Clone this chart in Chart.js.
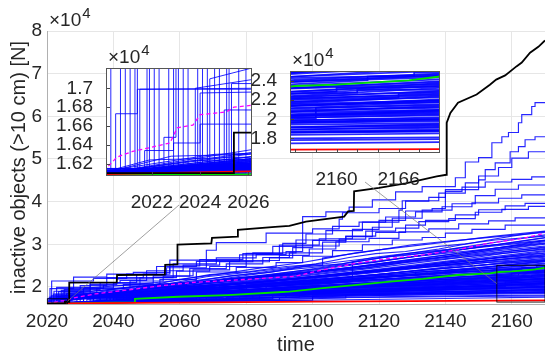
<!DOCTYPE html>
<html>
<head>
<meta charset="utf-8">
<script src="https://cdn.jsdelivr.net/npm/chart.js@4.4.0/dist/chart.umd.min.js"></script>
<style>
html,body{margin:0;padding:0;background:#fff;}
#wrap{position:relative;width:545px;height:361px;overflow:hidden;}
#wrap canvas{position:absolute;}
</style>
</head>
<body>
<div id="wrap">
  <canvas id="main" width="545" height="361" style="left:0;top:0"></canvas>
  <canvas id="insetL" width="230" height="180" style="left:50px;top:36px"></canvas>
  <canvas id="insetR" width="225" height="150" style="left:240px;top:40px"></canvas>
</div>
<script>
// ---- axes / ticks ----
const xTicks = [2020, 2040, 2060, 2080, 2100, 2120, 2140, 2160];
const yTicks = [20000, 30000, 40000, 50000, 60000, 70000, 80000];
const yTickLabels = ['2', '3', '4', '5', '6', '7', '8'];
const insetLXTicks = [2022, 2024, 2026];
const insetLYTicks = [16200, 16400, 16600, 16800, 17000];
const insetLYLabels = ['1.62', '1.64', '1.66', '1.68', '1.7'];
const insetRXTicks = [2156, 2158, 2160, 2162, 2164, 2166, 2168];
const insetRXLabels = ['', '', '2160', '', '', '2166', ''];
const insetRYTicks = [18000, 20000, 22000, 24000];
const insetRYLabels = ['1.8', '2', '2.2', '2.4'];

// ---- series, [year, thousands of objects, ...] ----
const worstRun = [2020,16.1, 2025.4,16.1, 2025.4,16.53, 2026.7,16.53, 2026.7,21.0, 2041,21.05, 2041.1,22.8, 2055.5,22.9, 2055.6,25.2, 2059.2,25.3, 2059.3,29.9, 2069.5,30.2, 2069.7,31.5, 2077.4,31.8, 2077.5,33.4, 2088.7,34.1, 2093,34.3, 2098,35.3, 2109.5,36.5, 2110.7,37.7, 2112.4,37.8, 2112.5,42.4, 2120,43.2, 2128,44.3, 2137.4,45.9, 2140.3,46.3, 2140.4,58.5, 2141.5,60.8, 2143.8,63.2, 2149.4,65.1, 2153.4,67.4, 2155.3,68.6, 2158,69.6, 2161.4,71.7, 2163,72.6, 2165.5,74.9, 2168,76.3, 2170,77.8];
const bestRun = [2020,16.09, 2026,16.12, 2045,16.25, 2070,16.4, 2100,16.55, 2130,16.68, 2155,16.8, 2170,16.85];
const medianLine = [2020,16.08, 2026,16.09, 2035,16.25, 2046.3,16.4, 2046.5,17.18, 2059.5,17.7, 2074.5,18.1, 2089.6,18.75, 2093,18.9, 2103,19.7, 2113.4,20.5, 2123.3,21.25, 2133.3,21.9, 2143.5,22.8, 2153.4,23.2, 2156,23.5, 2160,23.65, 2164,23.9, 2167,24.1, 2170,24.5];
const meanLine = [2020,16.12, 2020.55,16.27, 2021.2,16.33, 2021.9,16.37, 2022.75,16.42, 2023.05,16.58, 2023.7,16.61, 2024.0,16.72, 2025.1,16.75, 2025.4,16.8, 2026.15,16.82, 2027,17.25, 2030,17.7, 2034.5,18.36, 2044.4,19.3, 2054.6,20.3, 2064.6,21.1, 2074.5,21.5, 2084.8,22.0, 2094.7,22.5, 2103,24.0, 2113.4,25.6, 2123.3,26.7, 2133.3,27.5, 2143.5,28.7, 2153.4,30.3, 2163.4,31.4, 2170,32.6];

const runsHigh = [
  [2020,16.12, 2024.3,16.12, 2024.3,18.6, 2033,19.2, 2041,20.6, 2052,21.9, 2058,22.2, 2058,24.3, 2071,25.4, 2083,26.8, 2092,27.6, 2097,28.3, 2097,35.8, 2104,36.5, 2111,37.6, 2118,38.7, 2125,40.4, 2133,42.3, 2143,43.5, 2146,45.6, 2150,49.3, 2154,50.3, 2157,53.8, 2159,55.2, 2162,56.2, 2163,58.5, 2166,60.4, 2167,62.3, 2170,63.2],
  [2020,16.1, 2022.1,16.1, 2022.1,17.9, 2030,19.0, 2038,20.3, 2049,22.2, 2057,23.0, 2057,25.6, 2068,26.3, 2071,28.6, 2086,30.4, 2100,32.6, 2108,33.6, 2109,35.9, 2120,37.4, 2128,38.4, 2135,40.1, 2140,41.0, 2145,42.4, 2150,42.8, 2152,45.1, 2155,47.5, 2159.5,49.1, 2162,51.7, 2164,52.9, 2167,54.5, 2170,55.2],
  [2020,16.15, 2025.2,16.15, 2025.2,18.2, 2036,19.4, 2047,21.0, 2056,22.9, 2068,24.5, 2080,26.2, 2088,27.9, 2095,29.5, 2104,31.0, 2115,33.2, 2126,35.2, 2127,38.0, 2138,40.2, 2146,42.0, 2150,44.4, 2156,46.0, 2160,48.0, 2165,50.2, 2170,51.7],
  [2020,16.1, 2021.4,16.1, 2021.4,20.2, 2034,21.4, 2044,22.0, 2053,23.0, 2065,24.8, 2078,26.0, 2090,27.5, 2102,29.8, 2112,31.3, 2120,33.5, 2128,35.6, 2136,37.8, 2140,38.4, 2145,42.8, 2152,43.4, 2160,44.6, 2166,45.2, 2170,45.8],
  [2020,16.1, 2023.5,16.1, 2023.5,17.6, 2031,18.9, 2040,19.8, 2052,20.9, 2064,22.6, 2075,24.0, 2087,25.9, 2094,26.8, 2100,29.2, 2110,30.9, 2118,31.8, 2124,34.0, 2133,36.1, 2142,38.0, 2149,39.5, 2155,41.4, 2162,42.9, 2170,43.9],
  [2020,16.13, 2020.9,16.13, 2020.9,18.0, 2028,19.6, 2038,22.3, 2046,23.0, 2057,23.4, 2066,24.9, 2079,26.4, 2091,27.8, 2098,30.2, 2106,32.4, 2114,34.2, 2122,35.2, 2131,36.4, 2139,37.6, 2148,38.8, 2156,39.7, 2163,40.8, 2170,41.6],
  [2020,16.1, 2024.8,16.1, 2024.8,17.4, 2035,18.6, 2045,19.7, 2055,21.4, 2063,22.5, 2074,24.3, 2085,25.4, 2093,26.9, 2103,28.0, 2110,30.5, 2119,31.9, 2128,32.8, 2134,34.5, 2143,35.6, 2150,36.9, 2158,38.1, 2164,39.0, 2170,39.6],
  [2020,16.12, 2022.9,16.12, 2022.9,18.7, 2033,19.9, 2042,21.0, 2050,21.5, 2061,23.8, 2072,25.1, 2082,25.9, 2095,28.0, 2108,29.6, 2116,31.2, 2125,33.1, 2132,33.8, 2141,35.3, 2149,36.0, 2157,37.5, 2165,38.2, 2170,38.9],
  [2020,16.1, 2026.5,16.1, 2026.5,18.0, 2037,19.6, 2048,20.4, 2059,22.2, 2069,23.7, 2080,24.8, 2090,26.2, 2099,27.4, 2107,28.9, 2117,30.6, 2126,31.4, 2135,32.9, 2144,33.6, 2153,34.8, 2161,35.5, 2170,36.2],
  [2020,16.14, 2021.9,16.14, 2021.9,17.5, 2031,18.3, 2043,19.7, 2054,20.6, 2065,21.7, 2077,23.5, 2089,24.6, 2097,25.7, 2106,27.2, 2115,28.5, 2124,29.9, 2133,31.0, 2140,31.6, 2148,32.6, 2158,33.5, 2170,34.5]
];

const runsMid = [
  [2020,16.1, 2023.1,16.1, 2023.1,17.3, 2030,17.9, 2041,19.6, 2051,20.3, 2060,21.8, 2072,23.0, 2084,24.4, 2096,25.6, 2104,26.7, 2113,28.0, 2121,28.8, 2130,29.9, 2139,30.6, 2150,31.4, 2160,32.1, 2170,32.8],
  [2020,16.1, 2025.9,16.1, 2025.9,18.4, 2034,19.0, 2046,20.1, 2057,20.8, 2068,22.4, 2078,23.2, 2088,24.1, 2101,25.4, 2111,26.9, 2119,27.8, 2128,28.3, 2138,29.5, 2146,30.1, 2155,31.0, 2164,31.5, 2170,31.9],
  [2020,16.12, 2020.5,16.12, 2020.5,16.73, 2021.4,16.73, 2021.4,16.99, 2026.1,16.99, 2027,17.2, 2036,18.6, 2047,19.4, 2058,20.6, 2069,21.5, 2081,22.8, 2092,24.0, 2103,24.8, 2114,26.0, 2124,27.2, 2135,28.1, 2145,29.2, 2157,30.0, 2170,31.0],
  [2020,16.1, 2024.4,16.1, 2024.4,17.1, 2032,17.6, 2043,18.7, 2053,19.8, 2064,20.3, 2074,21.9, 2086,22.7, 2097,23.9, 2108,25.1, 2118,25.7, 2128,26.9, 2139,27.8, 2149,28.6, 2160,29.5, 2170,30.3],
  [2020,16.15, 2022.5,16.15, 2022.5,16.48, 2023.0,16.48, 2023.0,17.8, 2033,18.5, 2044,19.1, 2056,20.0, 2067,21.2, 2079,21.8, 2090,22.9, 2102,23.6, 2113,24.6, 2123,25.7, 2134,26.6, 2145,27.4, 2156,28.5, 2170,29.6],
  [2020,16.1, 2021.1,16.1, 2021.1,17.6, 2031,18.2, 2042,18.8, 2052,19.6, 2063,20.4, 2073,21.1, 2085,22.3, 2095,22.9, 2105,23.8, 2116,24.4, 2127,25.6, 2137,26.4, 2148,27.2, 2159,28.0, 2170,28.8],
  [2020,16.1, 2026.3,16.1, 2026.3,17.3, 2035,17.9, 2045,18.4, 2055,19.3, 2066,19.9, 2077,20.8, 2087,21.6, 2099,22.4, 2110,23.3, 2121,24.1, 2131,24.9, 2141,25.9, 2152,26.6, 2161,27.4, 2170,28.0],
  [2020,16.13, 2021.7,16.13, 2021.7,16.34, 2022.9,16.34, 2022.9,16.42, 2024.0,16.42, 2024.0,16.62, 2026.2,16.62, 2029,17.5, 2039,18.3, 2050,18.9, 2061,19.5, 2071,20.3, 2082,21.0, 2094,21.8, 2105,22.7, 2116,23.5, 2126,24.2, 2137,25.0, 2148,25.8, 2158,26.6, 2170,27.3],
  [2020,16.1, 2023.8,16.1, 2023.8,17.0, 2034,17.4, 2046,18.1, 2057,18.9, 2068,19.5, 2078,20.3, 2089,21.0, 2100,21.6, 2111,22.4, 2122,23.1, 2132,23.9, 2143,24.6, 2153,25.3, 2162,26.1, 2170,26.7],
  [2020,16.11, 2025.0,16.11, 2025.0,16.77, 2026.2,16.77, 2031,17.2, 2042,17.9, 2054,18.6, 2065,19.0, 2076,19.8, 2087,20.6, 2098,21.2, 2109,22.1, 2120,22.7, 2131,23.4, 2141,24.0, 2152,24.7, 2161,25.4, 2170,26.1],
  [2020,16.1, 2027.5,16.2, 2027.5,17.9, 2038,18.3, 2049,18.8, 2060,19.5, 2070,19.9, 2081,20.4, 2092,21.2, 2103,21.9, 2114,22.4, 2125,23.0, 2136,23.7, 2147,24.2, 2158,24.9, 2170,25.6],
  [2020,16.12, 2021.5,16.12, 2021.5,16.99, 2026.2,17.0, 2033,17.3, 2044,17.7, 2056,18.3, 2067,18.9, 2078,19.7, 2090,20.4, 2101,21.0, 2112,21.8, 2123,22.5, 2134,23.1, 2145,23.8, 2156,24.5, 2170,25.1],
  [2020,16.1, 2024.0,16.1, 2024.0,16.95, 2026.2,16.96, 2035,17.6, 2047,18.1, 2058,18.6, 2069,19.3, 2080,19.9, 2091,20.4, 2102,21.1, 2113,21.7, 2124,22.4, 2135,22.9, 2146,23.6, 2157,24.2, 2170,24.8],
  [2020,16.1, 2040,16.6, 2040,17.8, 2060,18.6, 2080,19.4, 2100,20.5, 2112,21.3, 2112,25.8, 2125,27.4, 2138,28.9, 2150,30.6, 2160,31.9, 2170,33.0],
  [2020,16.1, 2033,16.4, 2033,19.8, 2045,20.5, 2058,21.4, 2069,22.9, 2081,23.6, 2092,24.8, 2104,25.5, 2116,26.6, 2127,27.3, 2139,28.4, 2151,29.3, 2162,30.2, 2170,30.8],
  [2020,16.1, 2052,17.4, 2052,20.3, 2064,21.0, 2076,21.9, 2088,22.8, 2100,23.7, 2111,24.5, 2123,25.5, 2135,26.5, 2147,27.4, 2159,28.4, 2170,29.2],
  [2020,16.1, 2044,16.9, 2044,19.2, 2059,19.9, 2073,20.7, 2086,21.4, 2098,22.3, 2109,23.0, 2121,23.9, 2132,24.9, 2144,25.8, 2156,26.8, 2170,27.6],
  [2020,16.1, 2062,17.6, 2062,19.9, 2076,20.6, 2090,21.4, 2103,22.3, 2115,23.2, 2128,24.2, 2140,25.0, 2152,25.7, 2170,26.4],
  [2020,16.1, 2029,16.3, 2029,18.8, 2041,19.5, 2053,20.6, 2064,21.2, 2075,22.6, 2087,23.4, 2097,24.7, 2109,25.4, 2118,26.9, 2130,28.0, 2141,28.8, 2152,30.1, 2162,31.3, 2170,32.2],
  [2020,16.1, 2080,17.8, 2080,20.6, 2095,21.3, 2110,22.0, 2125,22.7, 2140,23.4, 2155,24.0, 2170,24.6],
  [2020,16.1, 2027,16.3, 2027,17.8, 2040,18.9, 2055,20.5, 2070,22.0, 2085,23.5, 2100,25.1, 2103,25.1, 2103,26.8, 2120,28.7, 2140,30.5, 2155,31.9, 2170,33.1],
  [2020,16.1, 2026,16.24, 2038,16.9, 2038,19.0, 2056,20.2, 2074,21.6, 2092,23.2, 2110,24.9, 2128,26.8, 2146,28.9, 2160,30.4, 2170,31.5],
  [2020,16.1, 2026,16.2, 2048,17.4, 2048,19.5, 2066,20.6, 2084,21.9, 2102,23.4, 2120,25.1, 2138,26.9, 2154,28.6, 2170,30.0],
  [2020,16.1, 2026,16.15, 2058,17.6, 2058,19.8, 2075,20.7, 2092,21.8, 2109,23.2, 2126,24.7, 2143,26.3, 2158,27.9, 2170,29.0],
  [2020,16.12, 2025.3,16.2, 2025.3,17.05, 2026.2,17.05, 2037,17.9, 2055,19.1, 2073,20.3, 2091,21.5, 2109,22.8, 2127,24.3, 2145,25.9, 2160,27.3, 2170,28.3],
  [2020,16.1, 2026,16.22, 2066,17.9, 2066,19.6, 2083,20.4, 2101,21.5, 2118,22.8, 2136,24.3, 2153,25.8, 2170,27.0],
  [2020,16.1, 2026,16.17, 2086,18.6, 2086,20.2, 2104,21.0, 2122,22.3, 2140,23.6, 2156,24.9, 2170,26.0],
  [2020,16.1, 2026,16.2, 2043,16.9, 2043,18.1, 2064,19.0, 2085,20.1, 2106,21.3, 2127,22.6, 2148,24.0, 2170,25.4],
  [2020,16.1, 2026,16.2, 2034,16.6, 2034,18.3, 2052,19.6, 2070,21.0, 2088,22.6, 2106,24.1, 2124,25.9, 2142,27.7, 2158,29.4, 2170,30.6],
  [2020,16.1, 2026,16.16, 2045,17.0, 2045,18.9, 2063,20.1, 2081,21.3, 2099,22.7, 2117,24.3, 2135,26.0, 2152,27.6, 2170,29.4],
  [2020,16.1, 2026,16.22, 2039,16.8, 2039,18.2, 2057,19.3, 2075,20.5, 2093,21.8, 2111,23.3, 2129,24.8, 2147,26.4, 2170,28.5],
  [2020,16.11, 2026,16.18, 2054,17.3, 2054,19.4, 2072,20.4, 2090,21.6, 2108,22.9, 2126,24.4, 2144,25.9, 2170,27.9],
  [2020,16.1, 2026,16.25, 2031,16.5, 2031,18.0, 2049,19.1, 2067,20.2, 2085,21.2, 2103,22.4, 2121,23.7, 2139,25.1, 2157,26.4, 2170,27.2],
  [2020,16.1, 2026,16.14, 2072,18.0, 2072,20.3, 2090,21.2, 2108,22.5, 2126,23.9, 2144,25.4, 2170,27.5],
  [2020,16.1, 2026,16.19, 2041,16.7, 2041,18.5, 2060,19.8, 2079,21.3, 2098,22.8, 2117,24.6, 2136,26.6, 2155,28.8, 2170,30.2],
  [2020,16.1, 2026,16.16, 2050,17.2, 2050,18.8, 2068,19.7, 2086,20.7, 2104,21.9, 2122,23.1, 2140,24.4, 2158,25.6, 2170,26.3],
  [2020,16.12, 2026,16.2, 2062,17.8, 2062,20.8, 2080,21.9, 2098,23.3, 2116,25.0, 2134,26.8, 2152,28.7, 2170,30.9],
  [2020,16.1, 2026,16.15, 2036,16.5, 2036,17.8, 2056,18.9, 2076,20.0, 2096,21.3, 2116,22.7, 2136,24.1, 2156,25.4, 2170,26.2],
  [2020,16.1, 2026,16.23, 2047,17.1, 2047,19.9, 2065,21.1, 2083,22.6, 2101,24.2, 2119,26.0, 2137,27.8, 2155,29.9, 2170,31.6],
  [2020,16.1, 2026,16.17, 2078,18.3, 2078,20.0, 2096,20.9, 2114,22.0, 2132,23.2, 2150,24.5, 2170,25.9]
];

const runsLow = [
  [2020,16.1, 2020.7,16.1, 2020.7,17.6, 2040,18.4, 2060,19.3, 2085,20.6, 2100,21.4, 2118,22.2, 2131,22.9, 2131,23.5, 2150,24.2, 2167.5,24.6, 2167.5,24.9, 2170,24.9],
  [2020,16.12, 2021.3,16.12, 2021.3,17.9, 2045,18.6, 2070,19.8, 2095,21.0, 2120,22.3, 2140,23.3, 2158,24.0, 2170,24.4],
  [2020,16.1, 2022.3,16.1, 2022.3,17.4, 2038,17.9, 2063,18.9, 2088,20.1, 2110,21.3, 2135,22.4, 2155,23.2, 2170,23.7],
  [2020,16.09, 2022.7,16.09, 2022.7,18.3, 2050,18.8, 2075,19.6, 2102,20.7, 2126,21.7, 2148,22.5, 2162,22.8, 2162,23.1, 2170,23.1],
  [2020,16.11, 2023.3,16.11, 2023.3,17.5, 2047,18.0, 2072,18.9, 2098,20.0, 2122,21.0, 2145,21.9, 2170,22.6],
  [2020,16.1, 2023.9,16.1, 2023.9,17.7, 2052,18.1, 2079,18.9, 2106,19.8, 2131,20.7, 2152,21.5, 2170,22.0],
  [2020,16.13, 2024.6,16.13, 2024.6,17.3, 2049,17.7, 2076,18.5, 2103,19.4, 2128,20.3, 2151,21.0, 2170,21.5],
  [2020,16.1, 2025.1,16.1, 2025.1,18.0, 2058,18.3, 2088,19.0, 2113,19.8, 2137,20.4, 2159,20.8, 2170,21.0],
  [2020,16.1, 2025.6,16.1, 2025.6,17.4, 2055,17.8, 2085,18.5, 2112,19.2, 2140,19.9, 2170,20.4],
  [2020,16.12, 2020.3,16.12, 2020.3,17.3, 2050,17.6, 2080,18.2, 2110,18.8, 2140,19.4, 2170,19.8],
  [2020,16.1, 2021.8,16.1, 2021.8,17.35, 2060,17.7, 2100,18.4, 2135,18.9, 2170,19.3],
  [2020,16.1, 2024.1,16.1, 2024.1,17.3, 2065,17.6, 2110,18.2, 2145,18.6, 2170,18.9],
  [2020,16.1, 2026,16.2, 2031,16.5, 2031,18.3, 2050,19.0, 2072,19.9, 2094,20.9, 2116,22.0, 2138,23.0, 2155,23.9, 2170,24.6],
  [2020,16.08, 2026,16.16, 2036,16.4, 2036,18.0, 2061,19.0, 2085,20.1, 2108,21.2, 2130,22.3, 2151,23.3, 2170,24.2],
  [2020,16.1, 2026,16.22, 2042,16.8, 2042,18.6, 2066,19.5, 2090,20.5, 2114,21.5, 2137,22.5, 2158,23.4, 2170,23.9],
  [2020,16.1, 2026,16.18, 2046,16.9, 2046,18.2, 2070,19.0, 2093,20.0, 2117,21.0, 2140,22.1, 2160,22.9, 2160,23.3, 2170,23.4],
  [2020,16.11, 2026,16.14, 2055,17.2, 2055,18.5, 2080,19.3, 2104,20.3, 2128,21.3, 2150,22.2, 2170,22.9],
  [2020,16.1, 2026,16.25, 2034,16.6, 2034,17.5, 2060,18.2, 2086,19.1, 2112,20.1, 2138,21.2, 2158,21.9, 2170,22.3],
  [2020,16.1, 2022.8,16.28, 2026,16.3, 2064,17.6, 2064,18.6, 2090,19.4, 2115,20.2, 2141,21.1, 2170,21.8],
  [2020,16.12, 2026,16.2, 2070,17.7, 2070,18.7, 2099,19.5, 2127,20.3, 2152,20.9, 2170,21.2],
  [2020,16.1, 2026,16.15, 2043,16.7, 2043,17.4, 2075,18.3, 2105,19.1, 2135,19.9, 2170,20.7],
  [2020,16.1, 2026,16.19, 2059,17.0, 2059,17.9, 2092,18.7, 2125,19.4, 2170,20.1],
  [2020,16.09, 2026,16.12, 2082,17.4, 2082,18.1, 2115,18.8, 2145,19.3, 2170,19.6],
  [2020,16.1, 2026,16.17, 2066,16.9, 2066,17.6, 2100,18.2, 2135,18.7, 2170,19.1],
  [2020,16.1, 2026,16.13, 2074,16.9, 2074,17.5, 2120,18.0, 2170,18.5],
  [2020,16.11, 2026,16.14, 2090,16.9, 2090,17.4, 2130,17.8, 2170,18.1],
  [2020,16.1, 2026,16.12, 2070,16.6, 2110,17.0, 2140,17.3, 2170,17.6],
  [2020,16.1, 2026,16.16, 2060,17.3, 2100,18.4, 2140,19.6, 2158,20.1, 2158,21.2, 2170,21.6],
  [2020,16.1, 2026,16.21, 2050,16.9, 2050,17.9, 2085,19.1, 2120,20.4, 2150,21.6, 2166,22.3, 2166,22.7, 2170,22.8],
  [2020,16.12, 2024.6,16.3, 2026,16.31, 2039,16.7, 2039,17.8, 2068,18.9, 2097,20.1, 2126,21.4, 2152,22.7, 2170,23.6],
  [2020,16.1, 2026,16.14, 2047,16.5, 2047,17.3, 2080,18.1, 2115,19.2, 2148,20.2, 2170,20.9],
  [2020,16.1, 2026,16.16, 2056,16.8, 2056,17.5, 2095,18.3, 2135,19.2, 2170,19.9],
  [2020,16.1, 2026,16.17, 2062,17.4, 2062,18.3, 2095,19.6, 2128,20.9, 2155,22.0, 2170,22.5],
  [2020,16.11, 2021.9,16.24, 2026,16.27, 2053,17.3, 2053,18.7, 2082,19.9, 2110,21.1, 2138,22.4, 2160,23.5, 2170,24.0],
  [2020,16.1, 2026,16.15, 2078,16.9, 2078,17.8, 2120,18.3, 2170,18.7],
  [2020,16.1, 2026,16.11, 2100,16.9, 2100,17.4, 2140,17.7, 2170,17.9],
  [2020,16.1, 2026,16.13, 2068,17.0, 2068,17.9, 2105,18.9, 2142,19.8, 2170,20.5],
  [2020,16.1, 2026,16.2, 2045,16.6, 2045,17.7, 2078,18.7, 2110,19.8, 2142,20.9, 2170,21.9],
  [2020,16.12, 2026,16.18, 2057,17.1, 2057,18.4, 2092,19.7, 2125,21.0, 2155,22.4, 2170,23.3],
  [2020,16.1, 2026,16.12, 2088,17.3, 2088,18.0, 2130,18.8, 2170,19.4],
  [2020,16.1, 2023.6,16.23, 2026,16.25, 2030,16.35, 2030,17.6, 2058,18.8, 2087,20.2, 2115,21.5, 2142,22.9, 2163,24.1, 2163,24.5, 2170,24.7],
  [2020,16.1, 2026,16.19, 2073,17.6, 2073,18.6, 2105,19.6, 2135,20.7, 2162,21.7, 2170,22.1],
  [2020,16.1, 2026,16.13, 2040,16.5, 2040,17.2, 2070,17.9, 2100,18.6, 2130,19.3, 2170,20.2],
  [2020,16.1, 2026,16.2, 2052,16.9, 2052,17.6, 2084,18.5, 2116,19.5, 2146,20.5, 2170,21.3],
  [2020,16.1, 2026,16.14, 2035,16.4, 2035,17.0, 2068,17.7, 2104,18.5, 2140,19.4, 2170,20.0],
  [2020,16.1, 2026,16.16, 2061,16.9, 2061,17.8, 2094,18.9, 2126,20.1, 2156,21.4, 2170,22.0],
  [2020,16.11, 2026,16.12, 2076,17.0, 2076,17.9, 2108,18.8, 2140,19.9, 2170,20.8],
  [2020,16.1, 2026,16.18, 2048,16.7, 2048,17.6, 2080,18.6, 2112,19.8, 2144,21.1, 2170,22.4],
  [2020,16.1, 2026,16.13, 2096,17.6, 2096,18.4, 2130,19.2, 2170,20.0],
  [2020,16.1, 2026,16.17, 2055,16.9, 2092,17.6, 2130,18.4, 2170,19.2],
  [2020,16.12, 2026,16.19, 2038,16.6, 2038,17.9, 2070,18.9, 2102,20.0, 2134,21.2, 2160,22.5, 2170,23.0],
  [2020,16.1, 2026,16.14, 2084,17.2, 2084,18.0, 2118,19.1, 2150,20.2, 2170,20.9],
  [2020,16.1, 2026,16.22, 2044,16.8, 2044,18.0, 2074,19.0, 2104,20.2, 2134,21.5, 2160,22.9, 2170,23.5],
  [2020,16.1, 2026,16.12, 2110,17.4, 2110,18.2, 2145,18.9, 2170,19.5],
  [2020,16.1, 2026,16.15, 2065,17.2, 2065,18.0, 2100,18.9, 2135,19.9, 2170,21.0],
  [2020,16.11, 2026,16.16, 2050,16.8, 2085,17.4, 2120,18.0, 2150,18.5, 2170,18.8],
  [2020,16.1, 2026,16.2, 2058,17.1, 2058,18.1, 2090,19.2, 2120,20.5, 2150,21.9, 2170,22.7],
  [2020,16.1, 2026,16.13, 2100,17.3, 2100,17.9, 2135,18.4, 2170,18.8],
  [2020,16.1, 2026,16.17, 2032,16.3, 2032,17.1, 2064,17.9, 2096,18.8, 2128,19.8, 2158,20.9, 2170,21.4],
  [2020,16.1, 2026,16.14, 2071,17.3, 2071,18.3, 2104,19.2, 2136,20.3, 2163,21.5, 2170,21.8],
  [2020,16.1, 2026,16.21, 2046,16.9, 2046,17.9, 2077,19.2, 2108,20.6, 2138,22.0, 2161,23.2, 2170,23.8],
  [2020,16.12, 2026,16.15, 2092,17.6, 2092,18.5, 2125,19.5, 2155,20.3, 2170,20.6]
];

// ---- layout of the two zoom panels (page pixels) ----
const FONT = '"Liberation Sans", Arial, Helvetica, sans-serif';
const TXT = '#262626';
const BLUE = 'rgba(0,0,255,0.85)';
const insetL = {id:'insetL', left:50, top:36, w:230, h:180, padL:56, padT:32, padR:28, xH:40,
  xmin:2020.1, xmax:2026.15, ymin:16070, ymax:17215, join:'right', lw:1};
const insetR = {id:'insetR', left:240, top:40, w:225, h:150, padL:50, padT:31, padR:25, xH:37,
  xmin:2155.5, xmax:2170, ymin:16450, ymax:25080, join:'left', lw:1.7};

function pts(a){
  const out = [];
  for(let i=0;i<a.length;i+=2) out.push({x:a[i], y:a[i+1]*1000});
  return out;
}

function buildDatasets(lw){
  const ds = [];
  ds.push({data:pts(worstRun), borderColor:'#000', borderWidth:1.8, order:0});
  ds.push({data:pts(bestRun), borderColor:'#ff0000', borderWidth:1.8, order:1});
  ds.push({data:pts(medianLine), borderColor:'#00e000', borderWidth:1.8, order:2});
  ds.push({data:pts(meanLine), borderColor:'#ff00ff', borderWidth:1.3, borderDash:[4,3], order:3});
  runsHigh.forEach(r=>ds.push({data:pts(r), borderColor:BLUE, borderWidth:lw, stepped:'after', order:10}));
  runsMid.concat(runsLow).forEach(r=>ds.push({data:pts(r), borderColor:BLUE, borderWidth:lw, order:10}));
  return ds;
}

// x10^4 label above an axis
const expLabel = {
  id:'expLabel',
  afterDraw(chart, args, o){
    const {ctx, chartArea:a} = chart;
    ctx.save();
    ctx.fillStyle = TXT;
    ctx.textBaseline = 'alphabetic';
    ctx.font = o.size+'px '+FONT;
    ctx.fillText('\u00d710', a.left+o.dx, a.top-o.dy);
    const w = ctx.measureText('\u00d710').width;
    ctx.font = o.sup+'px '+FONT;
    ctx.fillText('4', a.left+o.dx+w+1, a.top-o.dy-o.rise);
    ctx.restore();
  }
};

// white panel, frame and inward ticks of the zoom panels
const panel = {
  id:'panel',
  beforeDraw(chart){
    const {ctx, chartArea:a} = chart;
    ctx.save(); ctx.fillStyle='#fff';
    ctx.fillRect(a.left, a.top, a.right-a.left, a.bottom-a.top);
    ctx.restore();
  },
  afterDraw(chart){
    const {ctx, chartArea:a, scales:{x,y}} = chart;
    ctx.save();
    ctx.strokeStyle='#444'; ctx.lineWidth=1;
    ctx.beginPath();
    x.ticks.forEach(t=>{ const px=Math.round(x.getPixelForValue(t.value))+0.5; ctx.moveTo(px,a.bottom); ctx.lineTo(px,a.bottom-4); });
    y.ticks.forEach(t=>{ const py=Math.round(y.getPixelForValue(t.value))+0.5; ctx.moveTo(a.left,py); ctx.lineTo(a.left+4,py); });
    ctx.stroke();
    ctx.strokeStyle='#555';
    ctx.strokeRect(a.left+0.5, a.top+0.5, a.right-a.left-1, a.bottom-a.top-1);
    ctx.restore();
  }
};

// zoom boxes on the main axes and lines to the panels
const zoomMarks = {
  id:'zoomMarks',
  afterDatasetsDraw(chart){
    const {ctx, chartArea:a, scales:{x,y}} = chart;
    ctx.save();
    [insetL, insetR].forEach(d=>{
      const x0 = Math.max(x.getPixelForValue(d.xmin), a.left);
      const x1 = Math.min(x.getPixelForValue(d.xmax), a.right);
      const y0 = y.getPixelForValue(d.ymax);
      const y1 = Math.min(y.getPixelForValue(d.ymin), a.bottom);
      ctx.strokeStyle='#000'; ctx.lineWidth=0.8;
      ctx.strokeRect(x0, y0, x1-x0, y1-y0);
      const sx = d.left + d.padL + (d.w-d.padL-d.padR)/2;
      const sy = d.top + d.padT + (d.h-d.padT-d.xH) + 29;
      const ex = d.join==='right' ? x1 : x0;
      ctx.strokeStyle='#777'; ctx.lineWidth=0.7;
      ctx.beginPath(); ctx.moveTo(sx, sy); ctx.lineTo(ex, (y0+y1)/2); ctx.stroke();
    });
    ctx.restore();
  }
};

const common = {
  responsive:false, animation:false, events:[], devicePixelRatio:1,
  parsing:false, normalized:true,
  elements:{point:{radius:0}, line:{tension:0, fill:false}}
};

new Chart(document.getElementById('main'), {
  type:'line',
  data:{datasets:buildDatasets(1.15)},
  plugins:[zoomMarks, expLabel],
  options:Object.assign({}, common, {
    layout:{padding:{top:31, left:0, right:0, bottom:0}},
    plugins:{legend:{display:false}, tooltip:{enabled:false},
      expLabel:{size:19, sup:15, dx:2, dy:5, rise:8}},
    scales:{
      x:{type:'linear', min:2020, max:2170,
        afterBuildTicks:s=>{ s.ticks = xTicks.map(v=>({value:v})); },
        afterFit:s=>{ s.height = 57; },
        ticks:{font:{size:19, family:FONT}, color:TXT, padding:6, maxRotation:0, autoSkip:false, callback:v=>String(v)},
        grid:{color:'#e6e6e6', drawTicks:false},
        border:{color:'#b0b0b0'},
        title:{display:true, text:'time', color:TXT, font:{size:20, family:FONT}, padding:{top:0, bottom:4}}
      },
      y:{type:'linear', min:16000, max:80000,
        afterBuildTicks:s=>{ s.ticks = yTicks.map(v=>({value:v})); },
        afterFit:s=>{ s.width = 47; },
        ticks:{font:{size:19, family:FONT}, color:TXT, padding:5, autoSkip:false, callback:(v,i)=>yTickLabels[i]},
        grid:{color:'#e6e6e6', drawTicks:false},
        border:{color:'#b0b0b0'},
        title:{display:true, text:'inactive objects (>10 cm) [N]', color:TXT, font:{size:20, family:FONT}, padding:{top:7, bottom:0}}
      }
    }
  })
});

function makeInset(d, xt, xl, yt, yl){
  new Chart(document.getElementById(d.id), {
    type:'line',
    data:{datasets:buildDatasets(d.lw)},
    plugins:[panel, expLabel],
    options:Object.assign({}, common, {
      layout:{padding:{top:d.padT, right:d.padR, left:0, bottom:0}},
      plugins:{legend:{display:false}, tooltip:{enabled:false},
        expLabel:{size:19, sup:15, dx:2, dy:5, rise:8}},
      scales:{
        x:{type:'linear', min:d.xmin, max:d.xmax,
          afterBuildTicks:s=>{ s.ticks = xt.map(v=>({value:v})); },
          afterFit:s=>{ s.height = d.xH; },
          ticks:{font:{size:19, family:FONT}, color:TXT, padding:7, maxRotation:0, autoSkip:false, callback:(v,i)=>xl[i]},
          grid:{display:false}, border:{display:false}
        },
        y:{type:'linear', min:d.ymin, max:d.ymax,
          afterBuildTicks:s=>{ s.ticks = yt.map(v=>({value:v})); },
          afterFit:s=>{ s.width = d.padL; },
          ticks:{font:{size:19, family:FONT}, color:TXT, padding:5, autoSkip:false, callback:(v,i)=>yl[i]},
          grid:{display:false}, border:{display:false}
        }
      }
    })
  });
}

makeInset(insetL, insetLXTicks, insetLXTicks.map(String), insetLYTicks, insetLYLabels);
makeInset(insetR, insetRXTicks, insetRXLabels, insetRYTicks, insetRYLabels);
</script>
</body>
</html>
